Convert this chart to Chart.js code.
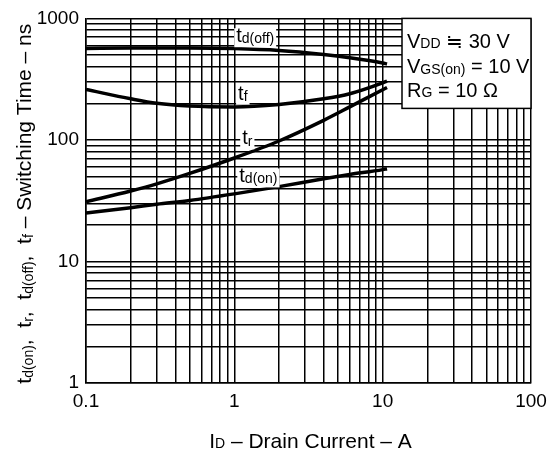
<!DOCTYPE html>
<html><head><meta charset="utf-8">
<script src="https://cdn.jsdelivr.net/npm/chart.js@4.4.0/dist/chart.umd.min.js"></script>
<style>html,body{margin:0;padding:0;background:#fff}#wrap{width:555px;height:453px}</style>
</head><body><div id="wrap"><canvas id="c" width="555" height="453"></canvas></div>
<script>
// ---- data ----
const drainCurrent = [0.1, 0.2, 0.3, 0.5, 1, 2, 4, 6, 10, 10.7];   // A
const tdOff = [565, 570, 572, 572, 565, 545, 505, 475, 430, 422];    // ns
const tf    = [260, 218, 200, 190, 187, 196, 218, 240, 295, 305];    // ns
const tr    = [31, 38, 43.5, 53, 71, 98, 145, 187, 259, 270];        // ns
const tdOn  = [25, 27.7, 29.6, 31.8, 36, 41.3, 48, 52, 57, 58];      // ns
const xMajor = [0.1, 1, 10, 100];
const xTickLabels = ['0.1', '1', '10', '100'];
const yMajor = [1, 10, 100, 1000];
const yTickLabels = ['1', '10', '100', '1000'];

const FONT = '"Liberation Sans", Arial, Helvetica, sans-serif';

function gridValues(majors) {
  const out = [];
  for (let i = 0; i < majors.length - 1; i++)
    for (let k = 1; k < 10; k++) out.push(majors[i] * k);
  out.push(majors[majors.length - 1]);
  return out;
}
function majorLabel(v, majors, labels) {
  for (let i = 0; i < majors.length; i++)
    if (Math.abs(v - majors[i]) / majors[i] < 1e-6) return labels[i];
  return '';
}
function pts(ys) { return drainCurrent.map((x, i) => ({ x: x, y: ys[i] })); }

// rich text: parts = [[text, size, dy], ...]
function richWidth(ctx, parts) {
  let w = 0;
  for (const p of parts) { ctx.font = p[1] + 'px ' + FONT; w += ctx.measureText(p[0]).width; }
  return w;
}
function drawRich(ctx, parts, x, y) {
  let cx = x;
  for (const p of parts) {
    ctx.font = p[1] + 'px ' + FONT;
    ctx.fillText(p[0], cx, y + (p[2] || 0));
    cx += ctx.measureText(p[0]).width;
  }
  return cx - x;
}

const curveLabels = [
  { parts: [['t', 20, 0], ['d(off)', 14, 1]], x: 1.03, y: 637 },
  { parts: [['t', 20, 0], ['f', 14, 1]],      x: 1.06, y: 215 },
  { parts: [['t', 20, 0], ['r', 14, 2]],      x: 1.13, y: 92 },
  { parts: [['t', 20, 0], ['d(on)', 14, 1]],  x: 1.08, y: 44.7 }
];
const conditionLines = [
  [['V', 20, 0], ['DD', 14, 0], [' \u2252 30 V', 20, 0]],
  [['V', 20, 0], ['GS(on)', 14, 1], [' = 10 V', 20, 0]],
  [['R', 20, 0], ['G', 14, 0], [' = 10 \u03A9', 20, 0]]
];
const yTitle = [['t', 21, 0], ['d(on)', 14, 2], [',  t', 21, 0], ['r', 14, 2], [',  t', 21, 0],
                ['d(off)', 14, 2], [',  t', 21, 0], ['f', 14, 2], [' \u2013 Switching Time \u2013 ns', 21, 0]];
const xTitle = [['I', 21, 0], ['D', 14, 0], [' \u2013 Drain Current \u2013 A', 21, 0]];

const annotations = {
  id: 'annotations',
  afterDatasetsDraw(chart) {
    const ctx = chart.ctx, xs = chart.scales.x, ys = chart.scales.y, ca = chart.chartArea;
    ctx.save();
    ctx.textAlign = 'left';
    ctx.textBaseline = 'alphabetic';
    // curve labels with white background
    for (const l of curveLabels) {
      const px = xs.getPixelForValue(l.x), py = ys.getPixelForValue(l.y);
      const w = richWidth(ctx, l.parts);
      ctx.fillStyle = '#fff';
      ctx.fillRect(px - 2, py - 14, w + 4, 19);
      ctx.fillStyle = '#000';
      drawRich(ctx, l.parts, px, py);
    }
    // condition box
    const bx = 402, by = ca.top, bw = ca.right - bx, bh = 90;
    ctx.fillStyle = '#fff';
    ctx.fillRect(bx, by, bw, bh);
    ctx.strokeStyle = '#000';
    ctx.lineWidth = 1.5;
    ctx.strokeRect(bx, by, bw, bh);
    ctx.fillStyle = '#000';
    conditionLines.forEach((ln, i) => drawRich(ctx, ln, bx + 5, by + 30 + i * 24.2));
    // axis titles
    const xw = richWidth(ctx, xTitle);
    drawRich(ctx, xTitle, (ca.left + ca.right) / 2 - xw / 2 + 2, 448);
    ctx.translate(31, (ca.top + ca.bottom) / 2 + 3);
    ctx.rotate(-Math.PI / 2);
    const yw = richWidth(ctx, yTitle);
    drawRich(ctx, yTitle, -yw / 2, 0);
    ctx.restore();
  }
};

const lineStyle = { borderColor: '#000', borderWidth: 3.5, pointRadius: 0, fill: false,
                    cubicInterpolationMode: 'monotone' };

new Chart(document.getElementById('c'), {
  type: 'line',
  data: {
    datasets: [
      Object.assign({ label: 'td(off)', data: pts(tdOff) }, lineStyle),
      Object.assign({ label: 'tf', data: pts(tf) }, lineStyle),
      Object.assign({ label: 'tr', data: pts(tr) }, lineStyle),
      Object.assign({ label: 'td(on)', data: pts(tdOn) }, lineStyle)
    ]
  },
  options: {
    responsive: false,
    animation: false,
    devicePixelRatio: 1,
    layout: { padding: { left: 0, right: 24, top: 15, bottom: 0 } },
    plugins: { legend: { display: false }, tooltip: { enabled: false }, title: { display: false } },
    scales: {
      x: {
        type: 'logarithmic', min: 0.1, max: 100,
        afterBuildTicks(s) { s.ticks = gridValues(xMajor).map(v => ({ value: v })); },
        afterFit(s) { s.height = 70; },
        ticks: { autoSkip: false, maxRotation: 0, padding: 7, color: '#000',
                 font: { family: FONT, size: 19 },
                 callback: v => majorLabel(v, xMajor, xTickLabels) },
        grid: { color: '#000', lineWidth: 1.5, drawTicks: false },
        border: { color: '#000', width: 1.5 }
      },
      y: {
        type: 'logarithmic', min: 1, max: 1000,
        afterBuildTicks(s) { s.ticks = gridValues(yMajor).map(v => ({ value: v })); },
        afterFit(s) { s.width = 86; },
        ticks: { autoSkip: false, padding: 7, color: '#000',
                 font: { family: FONT, size: 19 },
                 callback: v => majorLabel(v, yMajor, yTickLabels) },
        grid: { color: '#000', lineWidth: 1.5, drawTicks: false },
        border: { color: '#000', width: 1.5 }
      }
    }
  },
  plugins: [annotations]
});
</script></body></html>
